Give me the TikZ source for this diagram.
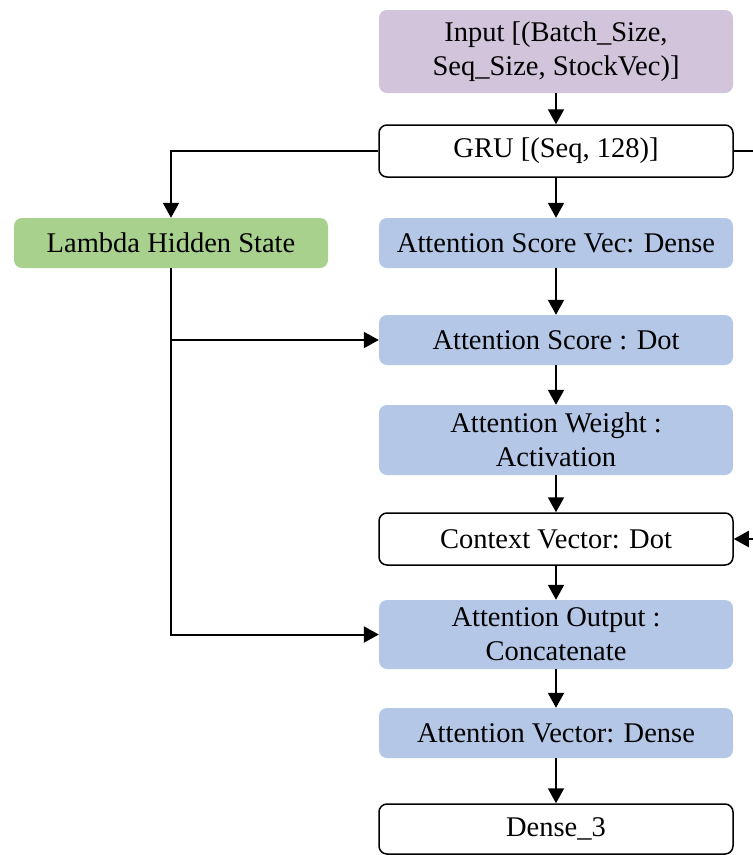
\documentclass[tikz,border=0pt]{standalone}
\usepackage{fontspec}
\setmainfont{Liberation Serif}
\usetikzlibrary{arrows.meta}
\definecolor{inpurple}{RGB}{209,196,219}
\definecolor{attblue}{RGB}{180,199,231}
\definecolor{lamgreen}{RGB}{169,209,142}
\tikzset{
  base/.style={rounded corners=8pt, minimum width=354pt, inner sep=0pt, align=center,
    font=\fontsize{28.5}{34}\selectfont, text=black},
  whitebox/.style={base, draw=black, line width=1.5pt, fill=white},
  bluebox/.style={base, fill=attblue},
  conn/.style={line width=2pt, -{Triangle[length=15pt,width=16pt]}},
  plain/.style={line width=2pt}
}
\begin{document}
\begin{tikzpicture}[x=1pt,y=-1pt]
\useasboundingbox (0,0) rectangle (753,855);
\node[base, fill=inpurple, minimum height=83pt] (inp) at (556,51.5) {Input [(Batch\_Size,\\Seq\_Size, StockVec)]};
\node[whitebox, minimum height=52pt] (gru) at (556,151) {GRU [(Seq, 128)]};
\node[base, fill=lamgreen, minimum width=314pt, minimum height=50pt] (lam) at (171,243) {Lambda Hidden State};
\node[bluebox, minimum height=50pt] (asv) at (556,243) {Attention Score Vec: Dense};
\node[bluebox, minimum height=50pt] (asd) at (556,340) {Attention Score : Dot};
\node[bluebox, minimum height=70pt] (aw) at (556,440) {Attention Weight :\\Activation};
\node[whitebox, minimum height=52pt] (cv) at (556,539) {Context Vector: Dot};
\node[bluebox, minimum height=69pt] (ao) at (556,634.5) {Attention Output :\\Concatenate};
\node[bluebox, minimum height=50pt] (av) at (556,733) {Attention Vector: Dense};
\node[whitebox, minimum height=50pt] (d3) at (556,829) {Dense\_3};
\coordinate (gruR) at (753,151);
\coordinate (cvR) at (753,539);
\draw[conn] (inp) -- (gru);
\draw[conn] (gru) -- (asv);
\draw[conn] (asv) -- (asd);
\draw[conn] (asd) -- (aw);
\draw[conn] (aw) -- (cv);
\draw[conn] (cv) -- (ao);
\draw[conn] (ao) -- (av);
\draw[conn] (av) -- (d3);
\draw[conn] (gru.west) -| (lam.north);
\draw[conn] (lam.south) |- (ao.west);
\draw[conn] (lam.south |- asd.west) -- (asd.west);
\draw[plain] (gru.east) -- (gruR);
\draw[conn] (cvR) -- (cv.east);
\end{tikzpicture}
\end{document}
